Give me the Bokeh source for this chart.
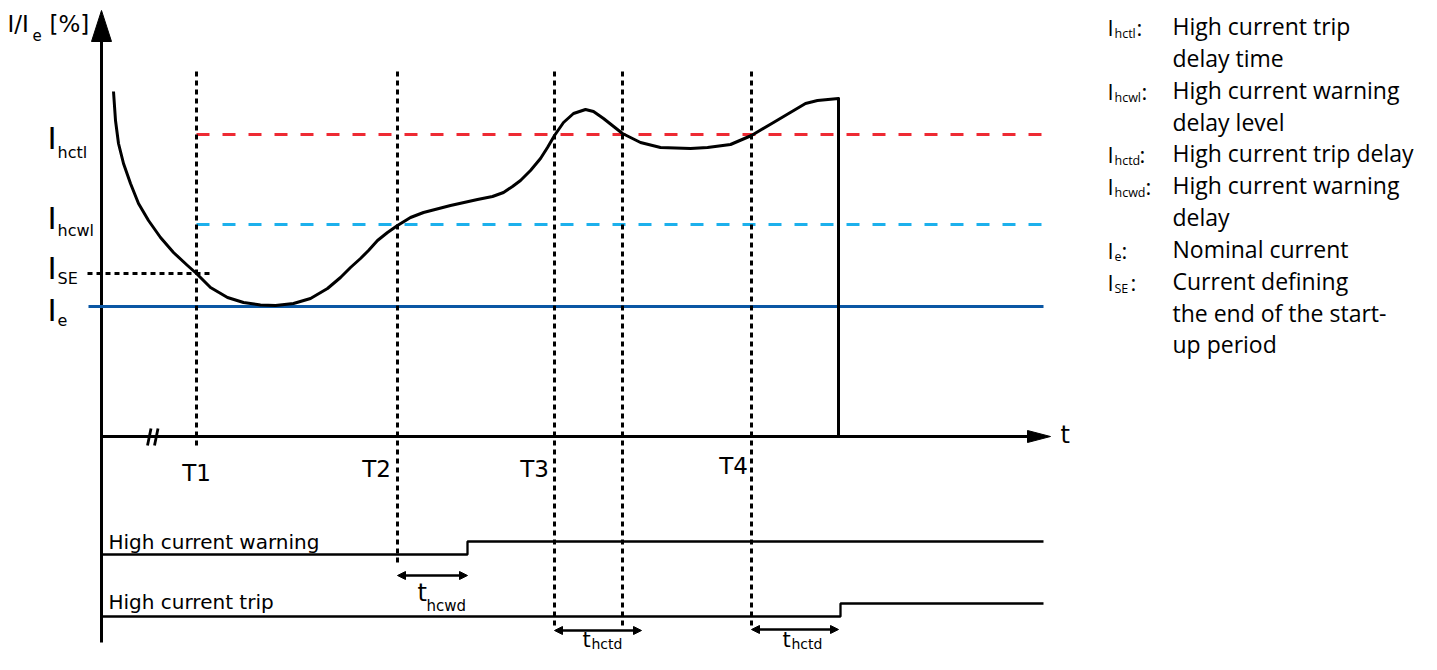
from bokeh.plotting import figure
from bokeh.models import Range1d, Arrow, NormalHead
from bokeh.core.properties import value
from bokeh.embed import file_html
from bokeh.resources import INLINE

# ---------------- data (schematic units: t to the right, level in drawing units) ----------------
# measured current curve I/Ie over time
curve_t = [113, 115, 118, 123, 130, 138, 148, 160, 173, 187, 196, 210, 227, 243, 260, 275,
           293, 310, 327, 340, 350, 360, 368, 377, 387, 397, 410, 423, 450, 477, 492, 503, 512,
           520, 530, 540, 547, 554, 563, 573, 585, 593, 603, 622, 640, 660, 690, 707, 730,
           751, 773, 805, 817, 838, 838]
curve_i = [91, 120, 143, 163, 183, 203, 220, 237, 252, 265, 273, 287, 297, 302, 304.5, 305,
           303, 298, 288, 277, 267, 258, 250, 240, 232, 225, 217, 212, 205, 199, 196, 192, 186,
           180, 170, 158, 147, 135, 122, 113, 109, 111, 118, 133, 142, 147, 148, 147, 144,
           135, 122, 103, 100, 98, 436]

# levels
level_names = ["I_hctl", "I_hcwl", "I_SE", "I_e"]
level_y = {"I_hctl": 134, "I_hcwl": 224, "I_SE": 273, "I_e": 306}
level_colors = {"I_hctl": "#ee2a33", "I_hcwl": "#1cb0ec", "I_e": "#0b57a4"}

# time markers
time_labels = ["T1", "T2", "T3", "T4"]
time_x = {"T1": 196, "T2": 397, "T3": 554, "T3d": 622, "T4": 751}
marker_bottom = {"T1": 449, "T2": 565, "T3": 626, "T3d": 626, "T4": 626}
marker_top = 71

# axes extents
t_axis_y = 436
t_axis_end = 1050
i_axis_x = 101
i_axis_bottom = 642
i_axis_tip = 10
line_end = 1043

# signals (low, high) and step times
warn_low, warn_high, warn_step = 554, 541, 467
trip_low, trip_high, trip_step = 616, 603, 840

# delay arrows: (start, end, y)
delay_arrows = [(397, 467, 575), (554, 641, 630), (751, 838, 629)]

# ---------------- figure ----------------
p = figure(width=1421, height=654, output_backend="svg", toolbar_location=None,
           x_range=Range1d(0, 1421), y_range=Range1d(654, 0),
           min_border=0, outline_line_color=None)
p.axis.visible = False
p.grid.visible = False
p.background_fill_color = "white"
p.border_fill_color = "white"

DV = value("DejaVu Sans")
LG = value("Open Sans")

# I axis with arrow
p.line([i_axis_x, i_axis_x], [i_axis_bottom, 38], line_color="black", line_width=3)
p.patch([i_axis_x - 10, i_axis_x, i_axis_x + 10], [41, i_axis_tip, 41], fill_color="black", line_color="black")
# t axis with arrow
p.line([i_axis_x, t_axis_end - 20], [t_axis_y, t_axis_y], line_color="black", line_width=3)
p.patch([t_axis_end - 23, t_axis_end, t_axis_end - 23], [t_axis_y - 6, t_axis_y, t_axis_y + 6],
        fill_color="black", line_color="black")
# break marks
p.segment(x0=[150.5, 157.5], y0=[428, 428], x1=[147, 154], y1=[445, 445], line_color="black", line_width=2.8)

# level lines
p.line([196, line_end], [level_y["I_hctl"]] * 2, line_color=level_colors["I_hctl"], line_width=2.8, line_dash="13 13")
p.line([196, line_end], [level_y["I_hcwl"]] * 2, line_color=level_colors["I_hcwl"], line_width=2.8, line_dash="13 13")
p.line([88, line_end], [level_y["I_e"]] * 2, line_color=level_colors["I_e"], line_width=2.8)
p.line([87, 210], [level_y["I_SE"]] * 2, line_color="black", line_width=2.8, line_dash="5 4")

# time marker dotted lines
for k in ["T1", "T2", "T3", "T3d", "T4"]:
    p.line([time_x[k], time_x[k]], [marker_top, marker_bottom[k]], line_color="black", line_width=3, line_dash="5 4")

# current curve
p.line(curve_t, curve_i, line_color="black", line_width=3, line_join="round")

# signals
p.line([i_axis_x, warn_step, warn_step, line_end], [warn_low, warn_low, warn_high, warn_high], line_color="black", line_width=2.3)
p.line([i_axis_x, trip_step, trip_step, line_end], [trip_low, trip_low, trip_high, trip_high], line_color="black", line_width=2.3)

# delay arrows
for x0, x1, yy in delay_arrows:
    p.add_layout(Arrow(start=NormalHead(size=8, fill_color="black", line_color="black"),
                       end=NormalHead(size=8, fill_color="black", line_color="black"),
                       x_start=x0, y_start=yy, x_end=x1, y_end=yy, line_color="black", line_width=2.5))

def txt(x, y, s, size, font=DV, align="left"):
    # y is the visual baseline; compensate the renderer's baseline offset
    p.text(x=[x], y=[y - 0.4 * size], text=[s], text_font=font, text_font_size=f"{size}px",
           text_align=align, text_baseline="alphabetic", text_color="black")

# axis titles
txt(7, 33, "I/I", 23)
txt(32, 40, "e", 15)
txt(49, 33, "[%]", 23)
txt(1060, 444, "t", 24)

# level labels
lab_pos = [("hctl", 150, 158), ("hcwl", 230, 236), ("SE", 280, 284), ("e", 322, 326)]
for sub, yb, ys in lab_pos:
    txt(47, yb, "I", 31)
    txt(57, ys, sub, 16)

# time labels
tl_x = {"T1": 196, "T2": 376, "T3": 534, "T4": 733}
tl_y = {"T1": 482, "T2": 478, "T3": 478, "T4": 475}
for k in time_labels:
    txt(tl_x[k], tl_y[k], k, 23, align="center")

# signal names
txt(108, 549, "High current warning", 20)
txt(108, 609, "High current trip", 20)

# delay labels
for xt, yb, sub, ts, ss, dy in [(417, 602, "hcwd", 24, 15, 9), (582, 648, "hctd", 21, 14, 1),
                                 (782, 648, "hctd", 21, 14, 1)]:
    txt(xt, yb, "t", ts)
    txt(xt + 9, yb + dy, sub, ss)

# legend
leg_lines = [(35, "High current trip"), (67, "delay time"), (99, "High current warning"),
             (131, "delay level"), (162, "High current trip delay"), (194, "High current warning"),
             (226, "delay"), (258, "Nominal current"), (290, "Current defining"),
             (322, "the end of the start-"), (353, "up period")]
for yb, s in leg_lines:
    txt(1172, yb, s, 23, font=LG)
leg_syms = [(35, "hctl", 1136), (99, "hcwl", 1141), (162, "hctd", 1139), (194, "hcwd", 1145),
            (258, "e", 1121), (290, "SE", 1130)]
for yb, sub, cx in leg_syms:
    txt(1107, yb, "I", 22, font=LG)
    txt(1114, yb + 3, sub, 12.5, font=LG)
    txt(cx, yb, ":", 22, font=LG)

open("out.html", "w").write(file_html(p, INLINE))
